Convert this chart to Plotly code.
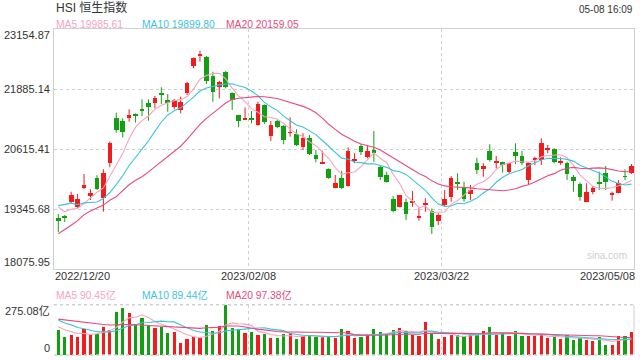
import plotly.graph_objects as go
import pandas as pd

# ---------------- data ----------------
opens = [19155, 19176, 19494, 19382, 19784, 19627, 20008, 19572, 20313, 21265,
         21214, 21265, 21356, 21451, 21583, 21595, 21807, 21652, 21511, 21441,
         21807, 22378, 22584, 22569, 22160, 21921, 22239, 21794, 21335, 21250,
         21272, 21123, 21547, 20891, 21208, 21102, 20954, 20933, 20664, 20842,
         20489, 20309, 20192, 19797, 19995, 19833, 20368, 20679, 20440, 20594,
         20241, 20065, 19551, 19394, 19500, 19479, 19176, 19424, 19310, 19098,
         19430, 19593, 19896, 19818, 19663, 20326, 20199, 20573, 20340, 20334,
         20135, 20546, 20467, 19959, 20389, 20383, 20601, 20609, 20340, 20326,
         20017, 19875, 19500, 19712, 19924, 20114, 19657, 19691, 20038, 20114]
highs = [19240, 19219, 19712, 19663, 20086, 19763, 20059, 20186, 20770, 21384,
         21265, 21456, 21371, 21667, 21667, 21737, 21921, 21779, 21674, 21722,
         22040, 22556, 22696, 22584, 22251, 22061, 22266, 21815, 21335, 21494,
         21420, 21616, 21557, 21208, 21229, 21123, 21286, 21032, 20948, 20912,
         20594, 20580, 20207, 20065, 20156, 20651, 20525, 20715, 20685, 20996,
         20256, 20135, 19621, 19642, 19572, 19727, 19361, 19572, 19356, 19255,
         19748, 20044, 20101, 19924, 19854, 20431, 20313, 20715, 20467, 20347,
         20326, 20736, 20573, 20326, 20453, 20842, 20700, 20630, 20440, 20347,
         20065, 19902, 19890, 19833, 20135, 20256, 19712, 19959, 20186, 20298]
lows = [18859, 19071, 19452, 19361, 19763, 19536, 19748, 19289, 20228, 20960,
        20863, 21193, 21172, 21314, 21214, 21477, 21568, 21405, 21456, 21371,
        21758, 22323, 22463, 21991, 21616, 21688, 21900, 21441, 21075, 21240,
        21159, 21113, 21145, 20785, 21054, 20715, 20876, 20679, 20594, 20489,
        20334, 20304, 19981, 19784, 19769, 19818, 20313, 20489, 20419, 20347,
        19959, 19902, 19276, 19382, 19113, 19394, 19098, 19289, 18817, 19007,
        19409, 19500, 19748, 19500, 19536, 20086, 20029, 20347, 20207, 20114,
        20101, 20292, 20277, 19875, 20277, 20277, 20525, 20313, 20277, 19959,
        19712, 19521, 19495, 19657, 19748, 19748, 19521, 19678, 19959, 20086]
closes = [19102, 19160, 19636, 19551, 19854, 19691, 19763, 20101, 20736, 21018,
          20982, 21335, 21314, 21430, 21511, 21695, 21752, 21583, 21652, 21616,
          22019, 22541, 22626, 22061, 21828, 22040, 21934, 21652, 21214, 21272,
          21250, 21568, 21193, 21123, 21087, 20806, 20969, 20700, 20842, 20510,
          20404, 20319, 19995, 19890, 19784, 20573, 20398, 20558, 20580, 20537,
          20029, 19924, 19310, 19642, 19234, 19494, 19191, 19479, 18971, 19219,
          19557, 19995, 19881, 19551, 19748, 20171, 20256, 20383, 20355, 20277,
          20313, 20467, 20313, 20313, 20404, 20749, 20616, 20347, 20355, 20080,
          19945, 19606, 19712, 19784, 19890, 19924, 19670, 19902, 20023, 20256]
volumes = [137, 98, 109, 98, 146, 109, 118, 153, 137, 236,
           258, 231, 170, 203, 164, 148, 153, 120, 126, 70,
           87, 98, 92, 164, 131, 159, 275, 148, 142, 120,
           126, 109, 114, 92, 92, 114, 120, 87, 103, 109,
           98, 98, 98, 92, 142, 131, 92, 98, 109, 142,
           126, 114, 137, 148, 131, 109, 103, 181, 114, 87,
           98, 109, 109, 103, 109, 114, 131, 153, 109, 120,
           103, 131, 103, 103, 103, 114, 92, 98, 87, 109,
           81, 92, 81, 76, 98, 59, 54, 103, 103, 126]
# sessions before the visible window (estimated from where the MA lines start)
prior_closes = [17524, 17661, 17574, 17298, 18205, 18597, 18736, 18675, 19518, 18441,
                18815, 19450, 19901, 19464, 19596, 19674, 19369, 19451, 19353]
prior_volumes = [190, 210, 180, 220, 205, 195, 215, 185, 200, 210,
                 260, 210, 240, 220, 210, 178, 160, 150, 145]

price_ticks = [23154.87, 21885.14, 20615.41, 19345.68, 18075.95]
vol_top = 275.08
vol_tick_labels = ["275.08亿", "0"]
date_labels = ["2022/12/20", "2023/02/08", "2023/03/22", "2023/05/08"]
date_grid_idx = [29.5, 59.5]
title_text = "HSI 恒生指数"
stamp_text = "05-08 16:09"
price_ma_text = ["MA5 19985.61", "MA10 19899.80", "MA20 20159.05"]
vol_ma_text = ["MA5 90.45亿", "MA10 89.44亿", "MA20 97.38亿"]

# ---------------- styles ----------------
RED = "#f21c1c"
GREEN = "#12a012"
MA_COLORS = ["#f7a3c1", "#3cc4df", "#e94a7c"]
GRID = "#cfcfcf"
TEXT = "#333333"
FONT = "Liberation Sans, Arial, Noto Sans CJK SC, sans-serif"

n = len(closes)
idx = list(range(n))
colors = [RED if c >= o else GREEN for o, c in zip(opens, closes)]

all_c = pd.Series(prior_closes + closes, dtype=float)
all_v = pd.Series(prior_volumes + volumes, dtype=float)
k = len(prior_closes)
price_ma = [all_c.rolling(w).mean().iloc[k:].tolist() for w in (5, 10, 20)]
vol_ma = [all_v.rolling(w).mean().iloc[k:].tolist() for w in (5, 10, 20)]

fig = go.Figure()

# wicks
for col in (RED, GREEN):
    xs, ys = [], []
    for i in idx:
        if colors[i] == col:
            xs += [i, i, None]
            ys += [lows[i], highs[i], None]
    fig.add_trace(go.Scatter(x=xs, y=ys, mode="lines", line=dict(color=col, width=1),
                             hoverinfo="skip", xaxis="x", yaxis="y"))

# bodies
min_body = 18
bases = [min(o, c) for o, c in zip(opens, closes)]
heights = [max(abs(c - o), min_body) for o, c in zip(opens, closes)]
fig.add_trace(go.Bar(x=idx, y=heights, base=bases, width=0.72, marker=dict(color=colors, line=dict(width=0)),
                     xaxis="x", yaxis="y"))

for ma, col in zip(price_ma, MA_COLORS):
    fig.add_trace(go.Scatter(x=idx, y=ma, mode="lines", line=dict(color=col, width=1.1),
                             xaxis="x", yaxis="y"))

# volume
fig.add_trace(go.Bar(x=idx, y=volumes, width=0.5, marker=dict(color=colors, line=dict(width=0)),
                     xaxis="x2", yaxis="y2"))
for ma, col in zip(vol_ma, MA_COLORS):
    fig.add_trace(go.Scatter(x=idx, y=ma, mode="lines", line=dict(color=col, width=1.1),
                             xaxis="x2", yaxis="y2"))

# ---------------- layout (pixel helpers) ----------------
L, R, T, B = 54, 634, 29, 355
MAIN_BOTTOM = 269
VOL_TOP = 304.7
step = 6.44
x0 = 58.3
xr = [(L - x0) / step, (R - x0) / step]


def px(v):
    return (v - L) / (R - L)


def py(v):
    return (B - v) / (B - T)


xaxis_common = dict(range=xr, showticklabels=False, zeroline=False, ticks="",
                    tickvals=date_grid_idx, showgrid=True, gridcolor=GRID, griddash="dot", gridwidth=1)

fig.update_layout(
    width=640, height=360,
    margin=dict(l=L, r=640 - R, t=T, b=360 - B, pad=0),
    paper_bgcolor="white", plot_bgcolor="white",
    showlegend=False, bargap=0,
    font=dict(family=FONT, size=11, color=TEXT),
    xaxis=dict(**xaxis_common, anchor="y", showline=True, mirror=True, linecolor=GRID, linewidth=1),
    yaxis=dict(domain=[py(MAIN_BOTTOM), 1], range=[price_ticks[-1], price_ticks[0]],
               tickvals=price_ticks[1:-1], showticklabels=False, showgrid=True, gridcolor=GRID,
               griddash="dot", zeroline=False, showline=True, mirror=True, linecolor=GRID, linewidth=1),
    xaxis2=dict(**xaxis_common, anchor="y2", matches="x", showline=False),
    yaxis2=dict(domain=[0, py(VOL_TOP)], range=[0, vol_top], showgrid=False, showticklabels=False,
                zeroline=False, showline=False),
)

# volume panel frame
fig.add_shape(type="line", xref="paper", yref="paper", x0=0, x1=1, y0=py(VOL_TOP), y1=py(VOL_TOP),
              line=dict(color=GRID, width=1.5, dash="dot"))
fig.add_shape(type="line", xref="paper", yref="paper", x0=0, x1=1, y0=0, y1=0,
              line=dict(color=GRID, width=1.5, dash="dot"))
fig.add_shape(type="line", xref="paper", yref="paper", x0=1, x1=1, y0=0, y1=py(VOL_TOP),
              line=dict(color=GRID, width=1))


def text(t, x, y, anchor="left", size=11, color=TEXT):
    fig.add_annotation(text=t, xref="paper", yref="paper", x=px(x), y=py(y), xanchor=anchor,
                       yanchor="middle", showarrow=False, borderpad=0,
                       font=dict(size=size, color=color, family=FONT))


text(title_text, 55, 8, size=12)
text(stamp_text, 634, 10, anchor="right", size=10)
for t, xx, col in zip(price_ma_text, (55, 140.7, 225.3), MA_COLORS):
    text(t, xx, 24, size=10.3, color=col)
for t, xx, col in zip(vol_ma_text, (55, 140.7, 225.3), MA_COLORS):
    text(t, xx, 295, size=10.3, color=col)

for v, yy in zip(price_ticks, (35, 89, 149, 209, 262)):
    text(f"{v:.2f}", 51, yy, anchor="right")
text(vol_tick_labels[0], 51, 311, anchor="right")
text(vol_tick_labels[1], 51, 348, anchor="right")

text(date_labels[0], 54, 276, anchor="left")
text(date_labels[1], x0 + step * date_grid_idx[0], 276, anchor="center")
text(date_labels[2], x0 + step * date_grid_idx[1], 276, anchor="center")
text(date_labels[3], 636, 276, anchor="right")

text("sina.com", 628, 255, anchor="right", size=10, color="#d0d0d0")

fig.write_html("out.html", config={"displayModeBar": False},
               post_script="document.body.style.margin='0';")
